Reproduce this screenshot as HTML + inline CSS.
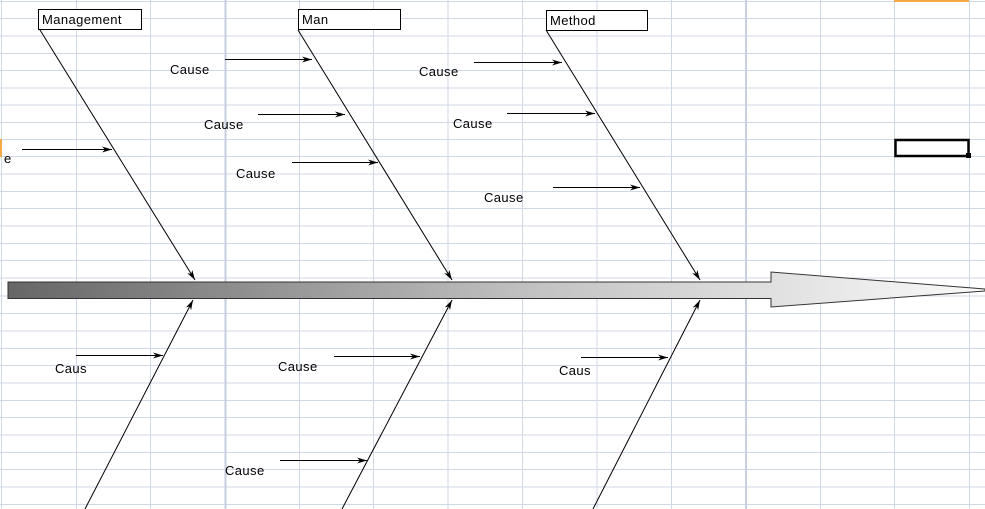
<!DOCTYPE html>
<html><head><style>
html,body{margin:0;padding:0;background:#fff;}
svg{display:block;}
text{font-family:"Liberation Sans",Arial,sans-serif;font-size:13px;letter-spacing:0.4px;fill:#000;}
</style></head><body>
<svg width="985" height="509" viewBox="0 0 985 509" xmlns="http://www.w3.org/2000/svg">
<defs>
<linearGradient id="g" x1="8" y1="0" x2="985" y2="0" gradientUnits="userSpaceOnUse">
<stop offset="0" stop-color="#666"/>
<stop offset="0.55" stop-color="#c4c4c4"/>
<stop offset="1" stop-color="#fafafa"/>
</linearGradient>
<marker id="a" markerWidth="10" markerHeight="6" refX="10" refY="3" orient="auto" markerUnits="userSpaceOnUse">
<path d="M0,0 L10,3 L0,6 L3,3 Z" fill="#000"/>
</marker>
</defs>
<g stroke="#d0d7e5" stroke-width="1">
<line x1="0" y1="1.5" x2="985" y2="1.5"/><line x1="0" y1="18.5" x2="985" y2="18.5"/><line x1="0" y1="36" x2="985" y2="36"/><line x1="0" y1="53.5" x2="985" y2="53.5"/><line x1="0" y1="70.5" x2="985" y2="70.5"/><line x1="0" y1="88" x2="985" y2="88"/><line x1="0" y1="105" x2="985" y2="105"/><line x1="0" y1="122.5" x2="985" y2="122.5"/><line x1="0" y1="139.5" x2="985" y2="139.5"/><line x1="0" y1="156.5" x2="985" y2="156.5"/><line x1="0" y1="174" x2="985" y2="174"/><line x1="0" y1="191.5" x2="985" y2="191.5"/><line x1="0" y1="208.5" x2="985" y2="208.5"/><line x1="0" y1="226" x2="985" y2="226"/><line x1="0" y1="243.5" x2="985" y2="243.5"/><line x1="0" y1="260.5" x2="985" y2="260.5"/><line x1="0" y1="278" x2="985" y2="278"/><line x1="0" y1="296" x2="985" y2="296"/><line x1="0" y1="313.5" x2="985" y2="313.5"/><line x1="0" y1="331" x2="985" y2="331"/><line x1="0" y1="348.5" x2="985" y2="348.5"/><line x1="0" y1="365.5" x2="985" y2="365.5"/><line x1="0" y1="383" x2="985" y2="383"/><line x1="0" y1="400.5" x2="985" y2="400.5"/><line x1="0" y1="417.5" x2="985" y2="417.5"/><line x1="0" y1="435" x2="985" y2="435"/><line x1="0" y1="452.5" x2="985" y2="452.5"/><line x1="0" y1="469.5" x2="985" y2="469.5"/><line x1="0" y1="487" x2="985" y2="487"/><line x1="0" y1="504.5" x2="985" y2="504.5"/>
<line x1="1.5" y1="0" x2="1.5" y2="509"/><line x1="76.5" y1="0" x2="76.5" y2="509"/><line x1="150.5" y1="0" x2="150.5" y2="509"/><line x1="299.5" y1="0" x2="299.5" y2="509"/><line x1="373.5" y1="0" x2="373.5" y2="509"/><line x1="448" y1="0" x2="448" y2="509"/><line x1="522.5" y1="0" x2="522.5" y2="509"/><line x1="597" y1="0" x2="597" y2="509"/><line x1="671.5" y1="0" x2="671.5" y2="509"/><line x1="820.5" y1="0" x2="820.5" y2="509"/><line x1="894.5" y1="0" x2="894.5" y2="509"/><line x1="969.5" y1="0" x2="969.5" y2="509"/>
</g>
<g stroke="#c6cfdf" stroke-width="2"><line x1="225.5" y1="0" x2="225.5" y2="509"/><line x1="746" y1="0" x2="746" y2="509"/></g>
<rect x="894" y="0" width="75" height="2" fill="#f5a947"/>
<rect x="0" y="139" width="2" height="18" fill="#f5a947"/>
<rect x="895.5" y="140" width="73" height="16" fill="none" stroke="#000" stroke-width="2.5"/>
<rect x="966" y="153" width="5" height="5" fill="#000"/>
<path d="M8,282 L771,282 L771,272 L985,289 L985,291 L771,307 L771,298.5 L8,298.5 Z" fill="url(#g)" stroke="#333" stroke-width="1"/>
<g stroke="#000" stroke-width="1" fill="none" marker-end="url(#a)">
<line x1="40" y1="30" x2="195" y2="280"/><line x1="298" y1="30" x2="452" y2="280"/><line x1="546" y1="30" x2="700" y2="280"/>
<line x1="85" y1="509" x2="193" y2="300"/><line x1="342" y1="509" x2="452" y2="300"/><line x1="593" y1="509" x2="700" y2="300"/>
<line x1="225" y1="59.5" x2="312" y2="59.5"/><line x1="258" y1="114.5" x2="345" y2="114.5"/><line x1="292" y1="162.5" x2="378" y2="162.5"/>
<line x1="474" y1="62.5" x2="562" y2="62.5"/><line x1="507" y1="113.5" x2="595" y2="113.5"/><line x1="553" y1="187.5" x2="640" y2="187.5"/>
<line x1="22" y1="149.5" x2="112" y2="149.5"/>
<line x1="76" y1="355.5" x2="163" y2="355.5"/><line x1="334" y1="356.5" x2="420" y2="356.5"/><line x1="280" y1="460.5" x2="367" y2="460.5"/><line x1="581" y1="357.5" x2="668" y2="357.5"/>
</g>
<g fill="#fff" stroke="#000" stroke-width="1">
<rect x="38.5" y="9.5" width="103" height="20"/><rect x="298.5" y="9.5" width="102" height="20"/><rect x="546.5" y="10.5" width="101" height="20"/>
</g>
<text x="42" y="24">Management</text><text x="302" y="24">Man</text><text x="550" y="25">Method</text>
<text x="170" y="74">Cause</text><text x="204" y="129">Cause</text><text x="236" y="178">Cause</text>
<text x="419" y="76">Cause</text><text x="453" y="128">Cause</text><text x="484" y="202">Cause</text>
<text x="4" y="163">e</text>
<text x="55" y="373">Caus</text><text x="278" y="371">Cause</text><text x="225" y="475">Cause</text><text x="559" y="375">Caus</text>
</svg>
</body></html>
